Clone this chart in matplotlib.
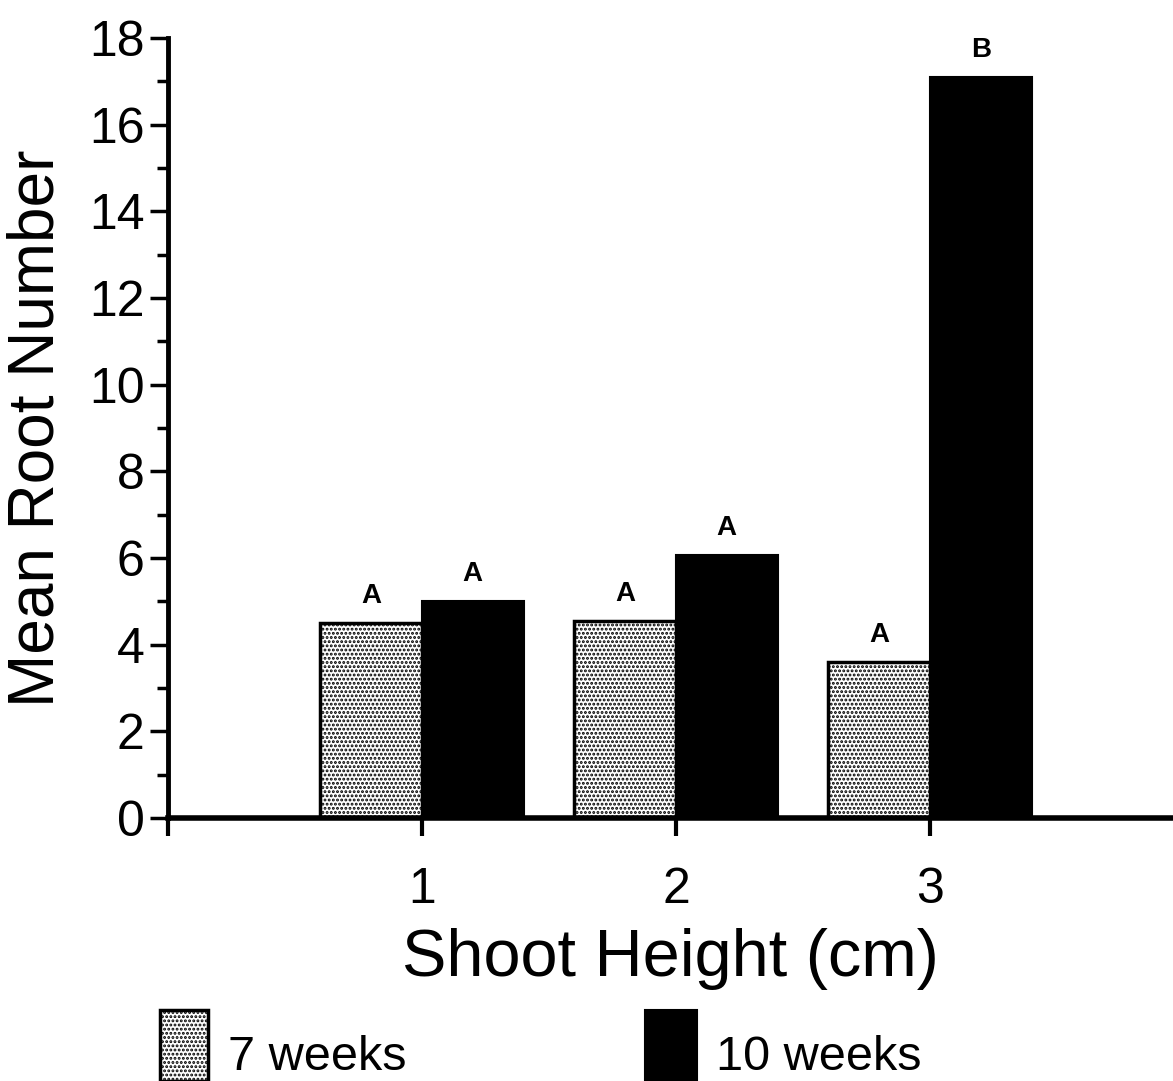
import matplotlib
matplotlib.use("Agg")
import matplotlib.pyplot as plt
from matplotlib import font_manager
from matplotlib.patches import Rectangle
import numpy as np

heights = [1, 2, 3]
weeks7 = [4.5, 4.55, 3.6]
weeks10 = [5.0, 6.07, 17.1]
letters7 = ["A", "A", "A"]
letters10 = ["A", "A", "B"]
series_names = ["7 weeks", "10 weeks"]

names = set(f.name for f in font_manager.fontManager.ttflist)
narrow = "Liberation Sans Narrow" if "Liberation Sans Narrow" in names else "Liberation Sans"
plt.rcParams["font.family"] = ["Liberation Sans", "DejaVu Sans"]
plt.rcParams["hatch.linewidth"] = 1.4

W, H = 1173, 1081
fig = plt.figure(figsize=(W / 100, H / 100), dpi=100)
ax = fig.add_axes([168 / W, 263 / H, (W - 168) / W, 780 / H])

x = np.array(heights, dtype=float)
bw = 0.4
ax.bar(x - bw / 2, weeks7, bw, facecolor="white", edgecolor="black",
       hatch="....", linewidth=2.5, zorder=2)
ax.bar(x + bw / 2, weeks10, bw, facecolor="black", edgecolor="black",
       linewidth=1.5, zorder=2)

for xi, v, t in zip(x - bw / 2, weeks7, letters7):
    ax.text(xi, v + 0.33, t, ha="center", va="bottom", fontsize=20,
            family=narrow, fontweight="semibold")
for xi, v, t in zip(x + bw / 2, weeks10, letters10):
    ax.text(xi, v + 0.33, t, ha="center", va="bottom", fontsize=20,
            family=narrow, fontweight="semibold")

ax.set_xlim(0, (W - 168) / 254)
ax.set_ylim(0, 18)
for s in ["top", "right"]:
    ax.spines[s].set_visible(False)
ax.spines["left"].set_linewidth(3.5)
ax.spines["bottom"].set_linewidth(4)

ax.set_yticks(np.arange(0, 19, 2))
ax.set_yticks(np.arange(1, 18, 2), minor=True)
ax.set_xticks([0, 1, 2, 3])
ax.set_xticklabels(["", "1", "2", "3"])
ax.tick_params(axis="y", which="major", length=13, width=2.5, labelsize=36, pad=4)
ax.tick_params(axis="y", which="minor", length=8, width=2.5)
ax.tick_params(axis="x", length=13, width=3, labelsize=36, pad=22)

ax.set_ylabel("Mean Root Number", fontsize=46, labelpad=16)
ax.set_xlabel("Shoot Height (cm)", fontsize=48, labelpad=11)

# legend drawn along the bottom edge
fig.add_artist(Rectangle((160 / W, 0), 48 / W, 71 / H, transform=fig.transFigure,
                         facecolor="white", edgecolor="black", hatch="....",
                         linewidth=2.5))
fig.add_artist(Rectangle((645 / W, 0), 52 / W, 71 / H, transform=fig.transFigure,
                         facecolor="black", edgecolor="black", linewidth=1.5))
fig.text(228 / W, 1 / H, series_names[0], fontsize=35, ha="left", va="bottom")
fig.text(716 / W, 1 / H, series_names[1], fontsize=35, ha="left", va="bottom")

fig.savefig("out.png", dpi=100)
